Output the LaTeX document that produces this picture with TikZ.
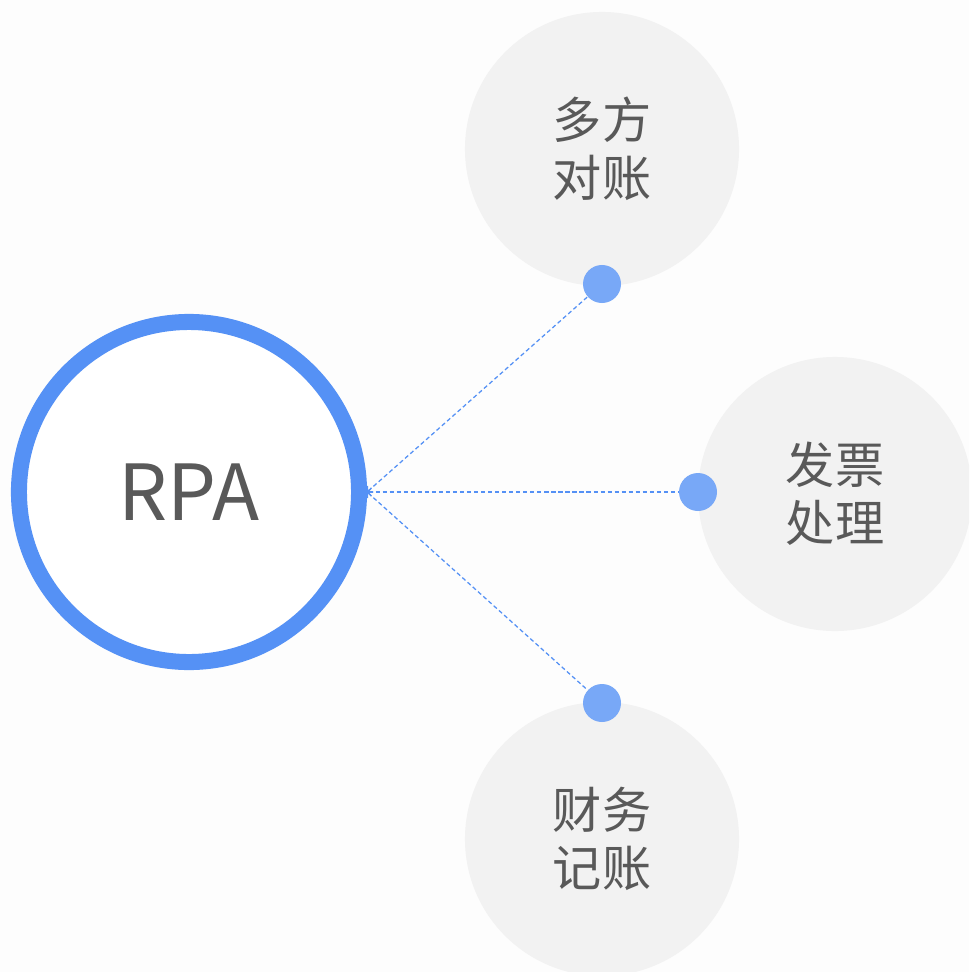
\documentclass[tikz,border=0pt]{standalone}
\usepackage{fontspec}
\newfontfamily\cjk{Noto Sans CJK SC}
\usetikzlibrary{arrows.meta}
\definecolor{ringblue}{HTML}{5591F5}
\definecolor{dotblue}{HTML}{78A8F7}
\definecolor{bubblegray}{HTML}{F2F2F2}
\definecolor{textgray}{HTML}{595959}
\definecolor{paper}{HTML}{FDFDFD}
\tikzset{hub/.style={shape=circle,draw=ringblue,line width=11.4pt,fill=white,minimum size=8.5cm,inner sep=0pt,text=textgray,font=\cjk\fontsize{55}{60}\selectfont}}
\tikzset{bubble/.style={shape=circle,fill=bubblegray,minimum size=6.85cm,inner sep=0pt,text=textgray,align=center,font=\cjk\fontsize{35}{41.5}\selectfont}}
\tikzset{knob/.style={shape=circle,fill=dotblue,minimum size=0.95cm,inner sep=0pt}}
\tikzset{link/.style={draw=ringblue,line width=0.9pt,dash pattern=on 3pt off 2pt,>={Straight Barb[length=2.5pt,width=6pt]},<-}}

\begin{document}
\begin{tikzpicture}[x=0.025cm,y=-0.025cm]
            % background
            \fill[paper] (0,0) rectangle (969,972);
            \clip (0,0) rectangle (969,972);
            % setup the nodes
            \node[hub] (rpa) at (189,492) {RPA};
            \foreach \name/\x/\y/\mytext in {duizhang/602/149/多方\\对账,fapiao/835/494/发票\\处理,jizhang/602/839/财务\\记账}
            {
                \node[bubble] (\name) at (\x,\y) {\mytext};
            }
            \foreach \name/\x/\y in {top/602/284,right/698/492,bottom/602/703}
            {
                \node[knob] (knob-\name) at (\x,\y) {};
            }
            % dashed links to the dots
            \foreach \name in {top,right,bottom}
            {
                \draw[link] (rpa.east) -- (knob-\name);
            }
        \end{tikzpicture}
\end{document}
